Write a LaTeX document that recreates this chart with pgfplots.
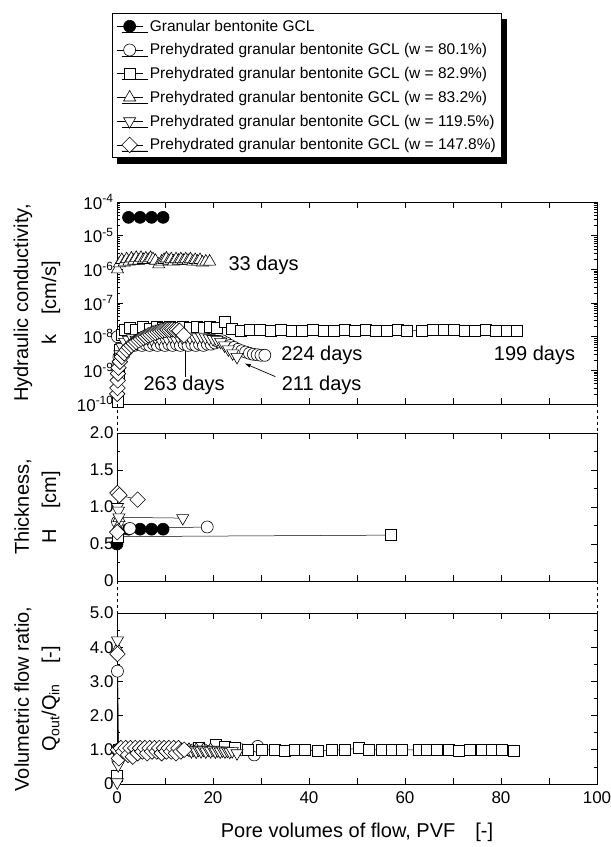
\documentclass[border=0pt]{standalone}
\usepackage{fontspec}
\setmainfont{Liberation Sans}
\usepackage{pgfplots}
\pgfplotsset{compat=1.18}
\usetikzlibrary{shadows,arrows.meta}

\newcommand{\tickfont}{\fontsize{17}{20}\selectfont}
\newcommand{\labfont}{\fontsize{20}{24}\selectfont}
\newcommand{\legfont}{\fontsize{15.5}{18.5}\selectfont}

\pgfplotsset{
  panel/.style={
    scale only axis, width=480pt,
    xmin=0, xmax=100, xtick={0,10,...,100},
    clip=false,
    axis line style={line width=0.8pt},
    tick style={black, line width=0.6pt},
    major tick length=6pt, minor tick length=3pt,
    ticklabel style={font=\tickfont},
    /pgf/number format/assume math mode=true,
  },
  sA/.style={black, line width=0.5pt, mark=*, mark size=6pt, mark options={solid, fill=black, line width=0.6pt}},
  sB/.style={black, line width=0.5pt, mark=*, mark size=6pt, mark options={solid, fill=white, line width=0.6pt}},
  sC/.style={black, line width=0.5pt, mark=square*, mark size=5.5pt, mark options={solid, fill=white, line width=0.6pt}},
  sD/.style={black, line width=0.5pt, mark=triangle*, mark size=7pt, mark options={solid, fill=white, line width=0.6pt}},
  sE/.style={black, line width=0.5pt, mark=triangle*, mark size=7pt, mark options={solid, fill=white, line width=0.6pt, rotate=180}},
  sF/.style={black, line width=0.5pt, mark=square*, mark size=5.5pt, mark options={solid, fill=white, line width=0.6pt, rotate=45}},
}

\begin{document}
\begin{tikzpicture}
\useasboundingbox (0,0) rectangle (611pt,847pt);

% ---------- hydraulic conductivity ----------
\begin{axis}[panel, name=top,
    at={(117pt,443pt)}, anchor=south west, height=202pt,
    ymode=log, ymin=1e-10, ymax=1e-4,
    ytick={1e-10,1e-9,1e-8,1e-7,1e-6,1e-5,1e-4},
    yticklabels={10\textsuperscript{-10},10\textsuperscript{-9},10\textsuperscript{-8},10\textsuperscript{-7},10\textsuperscript{-6},10\textsuperscript{-5},10\textsuperscript{-4}},
    minor ytick={2e-10,3e-10,4e-10,5e-10,6e-10,7e-10,8e-10,9e-10,
                 2e-9,3e-9,4e-9,5e-9,6e-9,7e-9,8e-9,9e-9,
                 2e-8,3e-8,4e-8,5e-8,6e-8,7e-8,8e-8,9e-8,
                 2e-7,3e-7,4e-7,5e-7,6e-7,7e-7,8e-7,9e-7,
                 2e-6,3e-6,4e-6,5e-6,6e-6,7e-6,8e-6,9e-6,
                 2e-5,3e-5,4e-5,5e-5,6e-5,7e-5,8e-5,9e-5},
    xticklabels={},
    legend style={at={(axis description cs:-0.0104,1.9356)}, anchor=north west,
      draw=black, line width=0.8pt, fill=white, font=\legfont,
      inner xsep=4pt, inner ysep=4.5pt, row sep=7pt, cells={anchor=west},
      drop shadow={shadow xshift=5pt, shadow yshift=-6pt, fill=black, opacity=1}},
    legend image code/.code={\draw[mark repeat=2,mark phase=2,#1] plot coordinates {(0pt,0pt) (13pt,0pt) (26pt,0pt)}; \path (31pt,0pt);},
  ]
\addplot[sA] table {
x y
2.4 3.5e-5
4.8 3.5e-5
7.2 3.5e-5
9.6 3.5e-5
};
\addlegendentry{Granular bentonite GCL}
\addplot[sB] table {
x y
0.1 1.0e-8
0.2 1.5e-9
0.4 2.5e-9
0.8 3.5e-9
1.3 4.5e-9
2.0 5.5e-9
2.8 6.0e-9
3.6 5.5e-9
4.4 6.0e-9
5.2 5.5e-9
6.0 6.0e-9
6.8 5.5e-9
7.6 6.0e-9
8.4 5.5e-9
9.2 6.0e-9
10.0 5.5e-9
10.8 6.0e-9
11.6 5.5e-9
12.4 6.0e-9
13.2 5.5e-9
14.0 6.0e-9
14.8 5.5e-9
15.6 6.0e-9
16.4 5.5e-9
17.2 6.0e-9
18.0 5.5e-9
18.8 6.0e-9
19.6 6.0e-9
20.4 6.5e-9
21.2 7.0e-9
22.0 7.5e-9
22.8 6.5e-9
23.6 5.5e-9
24.4 4.8e-9
25.2 4.2e-9
26.0 3.8e-9
26.8 3.5e-9
27.6 3.2e-9
28.4 3.0e-9
29.2 2.9e-9
30.0 2.8e-9
30.8 2.8e-9
};
\addlegendentry{Prehydrated granular bentonite GCL (w = 80.1\%)}
\addplot[sC] table {
x y
0.1 1.2e-10
0.3 8e-10
0.6 4e-9
1.0 1.1e-8
1.6 1.6e-8
2.6 1.8e-8
4.0 1.6e-8
5.4 1.9e-8
6.8 1.7e-8
8.2 1.9e-8
9.6 1.8e-8
11.0 1.9e-8
12.4 1.8e-8
13.8 1.9e-8
15.2 1.8e-8
16.6 2.0e-8
18.0 1.8e-8
19.4 1.9e-8
20.8 1.8e-8
22.4 2.7e-8
24.0 1.7e-8
25.8 1.5e-8
27.6 1.6e-8
29.8 1.6e-8
32.0 1.5e-8
34.2 1.6e-8
36.4 1.5e-8
38.6 1.5e-8
40.8 1.6e-8
43.0 1.5e-8
45.2 1.5e-8
47.4 1.6e-8
49.6 1.5e-8
51.8 1.6e-8
54.0 1.5e-8
56.2 1.5e-8
58.4 1.6e-8
60.4 1.5e-8
63.6 1.5e-8
65.8 1.6e-8
68.0 1.6e-8
70.2 1.6e-8
72.4 1.5e-8
74.6 1.5e-8
76.8 1.6e-8
79.0 1.5e-8
81.2 1.5e-8
83.2 1.5e-8
};
\addlegendentry{Prehydrated granular bentonite GCL (w = 82.9\%)}
\addplot[sD] table {
x y
0.1 1.0e-6
0.5 1.5e-6
1.0 1.9e-6
1.5 1.6e-6
2.0 2.0e-6
2.5 1.7e-6
3.0 2.1e-6
3.5 1.8e-6
4.0 2.2e-6
4.5 1.8e-6
5.0 2.2e-6
5.5 1.9e-6
6.0 2.1e-6
6.5 1.9e-6
7.0 2.2e-6
7.5 2.0e-6
8.0 1.8e-6
8.7 1.4e-6
9.3 1.7e-6
9.8 1.9e-6
10.3 2.1e-6
10.8 1.8e-6
11.3 2.0e-6
11.8 1.7e-6
12.3 2.0e-6
12.8 1.8e-6
13.3 2.0e-6
13.8 1.8e-6
14.3 2.0e-6
14.8 1.8e-6
15.3 2.0e-6
15.8 1.7e-6
16.3 1.9e-6
16.8 1.7e-6
17.3 1.9e-6
17.8 1.6e-6
18.5 1.7e-6
19.3 1.7e-6
};
\addlegendentry{Prehydrated granular bentonite GCL (w = 83.2\%)}
\addplot[sE] table {
x y
0.1 8e-10
0.3 1.5e-9
0.6 3e-9
1.0 5e-9
1.6 7e-9
2.4 8e-9
3.2 9e-9
4.0 8e-9
4.8 9e-9
5.6 8.5e-9
6.4 9e-9
7.2 8.5e-9
8.0 9.5e-9
8.8 9e-9
9.6 9.5e-9
10.4 9e-9
11.2 1.0e-8
12.0 9.5e-9
12.8 1.0e-8
13.6 9.5e-9
14.4 1.0e-8
15.2 9.5e-9
16.0 1.0e-8
16.8 9.5e-9
17.6 1.0e-8
18.4 9.5e-9
19.2 9.0e-9
20.0 8.5e-9
20.8 8.0e-9
21.6 7.0e-9
22.4 5.5e-9
23.2 4.2e-9
24.1 3.2e-9
25.0 2.5e-9
};
\addlegendentry{Prehydrated granular bentonite GCL (w = 119.5\%)}
\addplot[sF] table {
x y
0.05 2e-10
0.1 3e-10
0.15 5e-10
0.2 8e-10
0.3 1.2e-9
0.6 1.8e-9
1.0 2.5e-9
1.5 3.2e-9
2.0 4e-9
2.5 4.8e-9
3.0 5.5e-9
3.5 6.3e-9
4.0 7e-9
4.5 7.8e-9
5.0 8.5e-9
5.5 9.2e-9
6.0 1.0e-8
6.5 1.1e-8
7.0 1.15e-8
7.5 1.25e-8
8.0 1.3e-8
8.5 1.4e-8
9.0 1.45e-8
9.5 1.5e-8
10.0 1.55e-8
10.5 1.6e-8
11.0 1.6e-8
11.5 1.65e-8
12.0 1.6e-8
12.5 1.6e-8
13.0 1.5e-8
13.9 1.1e-8
};
\addlegendentry{Prehydrated granular bentonite GCL (w = 147.8\%)}

\node[anchor=west, font=\labfont] at (axis cs:22.5,1.3e-6) {33 days};
\node[anchor=west, font=\labfont] at (axis cs:33.5,2.7e-9) {224 days};
\node[anchor=west, font=\labfont] at (axis cs:77.8,2.7e-9) {199 days};
\node[anchor=west, font=\labfont] at (axis cs:4.8,3.6e-10) {263 days};
\node[anchor=west, font=\labfont] at (axis cs:33.6,3.6e-10) {211 days};
\draw[line width=0.7pt, -{Latex[length=6pt,width=4pt]}] (axis cs:14.3,6.5e-10) -- (axis cs:14.3,7e-9);
\draw[line width=0.7pt, -{Latex[length=6pt,width=4pt]}] (axis cs:33,6.5e-10) -- (axis cs:26.6,1.6e-9);
\end{axis}

% ---------- thickness ----------
\begin{axis}[panel, name=mid,
    at={(117pt,266pt)}, anchor=south west, height=148pt,
    ymin=0, ymax=2,
    ytick={0,0.5,1,1.5,2}, yticklabels={0,0.5,1.0,1.5,2.0},
    minor ytick={0.25,0.75,1.25,1.75},
    xticklabels={},
  ]
\addplot[sA] table {
x y
0 0.5
2.4 0.7
4.8 0.7
7.2 0.7
9.6 0.7
};
\addplot[sB] table {
x y
0.1 0.8
2.7 0.71
18.8 0.73
};
\addplot[sC] table {
x y
0.2 0.6
57 0.62
};
\addplot[sD] table {
x y
0.1 0.72
0.4 0.85
};
\addplot[sE] table {
x y
0.1 1.0
0.3 0.95
0.4 0.86
13.7 0.85
};
\addplot[sF] table {
x y
0.05 0.66
0.1 1.19
0.5 1.16
4.3 1.10
};
\end{axis}

% ---------- volumetric flow ratio ----------
\begin{axis}[panel, name=bot,
    at={(117pt,63pt)}, anchor=south west, height=171pt,
    ymin=0, ymax=5,
    ytick={0,1,2,3,4,5}, yticklabels={0,1.0,2.0,3.0,4.0,5.0},
    minor ytick={0.5,1.5,2.5,3.5,4.5},
    xticklabels={0,,20,,40,,60,,80,,100},
    xticklabel style={yshift=-4pt},
  ]
\addplot[sB] table {
x y
0.05 1.0
0.1 3.3
0.2 0.7
0.5 1.0
2 1.0
4 1.0
6 1.0
8 1.0
10 1.0
12 1.0
14 1.0
16 1.0
18 1.0
20 1.0
22 1.0
24 1.0
26 1.0
28.6 0.85
29.3 1.1
};
\addplot[sC] table {
x y
0.05 0.25
0.3 1.0
2 1.0
5 1.0
8 1.0
11 1.0
14 1.0
17 1.05
20.6 1.15
22.5 1.08
24.5 1.05
27.3 1.0
30.1 1.0
32.9 1.0
35.0 0.98
37.1 1.0
39.2 1.0
41.9 0.96
44.7 1.0
47.5 1.0
50.3 1.05
52.4 1.0
55.1 1.0
57.2 1.0
59.3 1.0
62.8 1.0
64.5 1.0
66.6 1.0
69.1 1.0
71.2 0.96
73.6 1.0
76.0 1.0
78.1 1.0
80.2 1.0
82.6 0.98
};
\addplot[sD] table {
x y
0.1 3.95
0.3 1.0
1.5 1.0
3 1.0
4.5 1.0
6 1.0
7.5 1.0
9 1.0
10.5 1.0
12 1.0
13.5 1.0
15 1.0
16.5 1.0
18 1.0
19.5 1.0
};
\addplot[sE] table {
x y
0.05 0.05
0.1 4.2
0.25 0.55
0.5 1.0
2 1.0
4 1.0
6 1.0
8 1.0
10 1.0
12 1.0
14 1.0
15.0 1.0
15.5 0.96
16.0 1.0
16.5 0.95
17.0 1.0
17.5 0.96
18.0 1.0
18.5 0.95
19.0 1.0
19.5 0.96
20.0 1.0
20.5 0.95
21.0 0.98
21.5 0.95
22.0 0.98
22.5 0.95
23.0 0.97
23.5 0.94
24.0 0.96
25.0 0.9
};
\addplot[sF] table {
x y
0.1 3.8
0.2 1.0
0.4 0.75
0.8 1.05
1.3 0.95
1.8 1.05
2.3 0.85
2.8 1.05
3.3 0.8
3.8 1.05
4.3 0.9
4.8 1.05
5.3 0.95
5.8 1.05
6.3 0.9
6.8 1.05
7.3 0.95
7.8 1.05
8.3 0.95
8.8 1.05
9.3 0.9
9.8 1.05
10.3 0.95
10.8 1.05
11.3 0.95
11.8 1.05
12.3 0.9
12.8 1.05
13.3 0.95
14.0 1.0
};
\end{axis}

% dashed connections between the panels
\draw[dashed, line width=0.6pt] (117pt,443pt) -- (117pt,414pt);
\draw[dashed, line width=0.6pt] (597pt,443pt) -- (597pt,414pt);
\draw[dashed, line width=0.6pt] (117pt,266pt) -- (117pt,234pt);
\draw[dashed, line width=0.6pt] (597pt,266pt) -- (597pt,234pt);

% axis titles
\node[rotate=90, font=\labfont] at (23pt,544pt) {Hydraulic conductivity,};
\node[rotate=90, font=\labfont] at (51pt,544pt) {k\quad[cm/s]};
\node[rotate=90, font=\labfont] at (23pt,340pt) {Thickness,};
\node[rotate=90, font=\labfont] at (51pt,340pt) {H\quad[cm]};
\node[rotate=90, font=\labfont] at (23pt,148pt) {Volumetric flow ratio,};
\node[rotate=90, font=\labfont] at (51pt,148pt) {Q\textsubscript{out}/Q\textsubscript{in}\quad[-]};
\node[font=\labfont] at (357pt,15pt) {Pore volumes of flow, PVF\quad[-]};
\end{tikzpicture}
\end{document}
